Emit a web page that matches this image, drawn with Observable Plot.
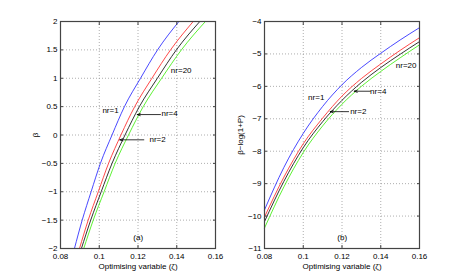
<!DOCTYPE html>
<html><head><meta charset="utf-8">
<script src="https://cdn.jsdelivr.net/npm/d3@7"></script>
<script src="https://cdn.jsdelivr.net/npm/@observablehq/plot@0.6"></script>
<style>
body{margin:0;background:#fff;width:463px;height:279px;position:relative;overflow:hidden}
#a,#b{position:absolute;top:0}
#a{left:0}
#b{left:230px}
</style>
</head><body><div id="a"></div><div id="b"></div>
<script>
// ---- shared ----
const seriesNames = ["nr=1", "nr=2", "nr=4", "nr=20"];
const seriesColors = ["#1a1aff", "#ff1a1a", "#000000", "#33ee00"];
const xTicks = [0.08, 0.1, 0.12, 0.14, 0.16];
const xLabel = "Optimising variable (ζ)";

// ---- panel (a): beta vs zeta ----
const betaLevels = [-2, -1.5, -1, -0.5, 0, 0.5, 1, 1.5, 2];
const zetaA_nr1  = [0.0872, 0.0912, 0.0958, 0.1006, 0.1066, 0.1130, 0.1213, 0.1301, 0.1411];
const zetaA_nr2  = [0.0898, 0.0943, 0.0995, 0.1048, 0.1112, 0.1183, 0.1272, 0.1368, 0.1485];
const zetaA_nr4  = [0.0908, 0.0956, 0.1010, 0.1066, 0.1133, 0.1207, 0.1300, 0.1398, 0.1519];
const zetaA_nr20 = [0.0920, 0.0969, 0.1025, 0.1082, 0.1151, 0.1227, 0.1322, 0.1424, 0.1548];
const yTicksA = [-2, -1.5, -1, -0.5, 0, 0.5, 1, 1.5, 2];
const yLabelA = "β";
const annTextA = ["nr=1", "nr=20", "nr=4", "nr=2", "(a)"];
const annXA = [0.1058, 0.1423, 0.1363, 0.1301, 0.1201];
const annYA = [0.432, 1.137, 0.374, -0.085, -1.81];
const arrX1A = [0.1316, 0.1230];
const arrX2A = [0.1196, 0.1106];
const arrYA = [0.36, -0.085];

// ---- panel (b): beta - log(1+P) vs zeta ----
const zetaGridB = [0.08, 0.09, 0.10, 0.11, 0.12, 0.13, 0.14, 0.15, 0.16];
const valB_nr1  = [-9.81, -8.50, -7.45, -6.62, -5.95, -5.42, -4.98, -4.57, -4.19];
const valB_nr2  = [-10.03, -8.80, -7.77, -6.98, -6.30, -5.76, -5.31, -4.89, -4.50];
const valB_nr4  = [-10.17, -8.93, -7.89, -7.09, -6.43, -5.88, -5.42, -5.01, -4.62];
const valB_nr20 = [-10.37, -9.10, -8.04, -7.22, -6.55, -6.00, -5.54, -5.12, -4.72];
const yTicksB = [-11, -10, -9, -8, -7, -6, -5, -4];
const yLabelB = "β−log(1+P)";
const annTextB = ["nr=1", "nr=20", "nr=4", "nr=2", "(b)"];
const annXB = [0.1067, 0.1531, 0.1387, 0.1284, 0.1201];
const annYB = [-6.34, -5.37, -6.15, -6.76, -10.66];
const arrX1B = [0.1346, 0.1234];
const arrX2B = [0.1263, 0.1139];
const arrYB = [-6.15, -6.78];

const fmt = d3.format("");
const blank = () => "";
const font = {fontFamily: "'Liberation Sans', Arial, Helvetica, sans-serif", fontSize: "8px", background: "white", color: "#000"};

function panel({width, marginLeft, marginRight, series, xsOf, ysOf, yTicks, yDomain, yLabel, labelOffsetY, annText, annX, annY, arrX1, arrX2, arrY}) {
  const lines = series.map((vals, i) => {
    const data = vals.map((v, j) => ({x: xsOf(i, j), y: ysOf(i, j)}));
    return Plot.line(data, {x: "x", y: "y", stroke: seriesColors[i], strokeWidth: 0.8, curve: "monotone-x"});
  });
  const ann = annText.map((t, i) => ({t, x: annX[i], y: annY[i]}));
  const arr = arrX1.map((x1, i) => ({x1, x2: arrX2[i], y: arrY[i]}));
  return Plot.plot({
    width, height: 279, marginLeft, marginRight, marginTop: 21, marginBottom: 31,
    style: font,
    x: {domain: [0.08, 0.16]},
    y: {domain: yDomain},
    marks: [
      Plot.gridX(xTicks.slice(1, -1), {stroke: "#999", strokeOpacity: 1, strokeWidth: 0.8, strokeDasharray: "1,2"}),
      Plot.gridY(yTicks.slice(1, -1), {stroke: "#999", strokeOpacity: 1, strokeWidth: 0.8, strokeDasharray: "1,2"}),
      ...lines,
      Plot.arrow(arr, {x1: "x1", y1: "y", x2: "x2", y2: "y", stroke: "#000", strokeWidth: 0.8, headLength: 6, headAngle: 40}),
      Plot.text(ann, {x: "x", y: "y", text: "t", fontSize: 8, fill: "#000"}),
      Plot.axisX(xTicks, {anchor: "bottom", tickSize: -3, tickFormat: blank, label: null, stroke: "#444"}),
      Plot.axisX(xTicks, {anchor: "top", tickSize: -3, tickFormat: blank, label: null, stroke: "#444"}),
      Plot.axisY(yTicks, {anchor: "left", tickSize: -3, tickFormat: blank, label: null, stroke: "#444"}),
      Plot.axisY(yTicks, {anchor: "right", tickSize: -3, tickFormat: blank, label: null, stroke: "#444"}),
      Plot.frame({stroke: "#444", strokeWidth: 1.2}),
      Plot.axisX(xTicks, {anchor: "bottom", tickSize: 0, tickPadding: 5, tickFormat: fmt, label: xLabel, labelAnchor: "center", labelOffset: 20, labelArrow: "none"}),
      Plot.axisY(yTicks, {anchor: "left", tickSize: 0, tickPadding: 3, tickFormat: fmt, label: yLabel, labelAnchor: "center", labelOffset: labelOffsetY, labelArrow: "none"})
    ]
  });
}

const seriesA = [zetaA_nr1, zetaA_nr2, zetaA_nr4, zetaA_nr20];
document.getElementById("a").append(panel({
  width: 230, marginLeft: 60, marginRight: 15, series: seriesA,
  xsOf: (i, j) => seriesA[i][j], ysOf: (i, j) => betaLevels[j],
  yTicks: yTicksA, yDomain: [-2, 2], yLabel: yLabelA, labelOffsetY: 28,
  annText: annTextA, annX: annXA, annY: annYA, arrX1: arrX1A, arrX2: arrX2A, arrY: arrYA
}));

const seriesB = [valB_nr1, valB_nr2, valB_nr4, valB_nr20];
document.getElementById("b").append(panel({
  width: 233, marginLeft: 34, marginRight: 44, series: seriesB,
  xsOf: (i, j) => zetaGridB[j], ysOf: (i, j) => seriesB[i][j],
  yTicks: yTicksB, yDomain: [-11, -4], yLabel: yLabelB, labelOffsetY: 27,
  annText: annTextB, annX: annXB, annY: annYB, arrX1: arrX1B, arrX2: arrX2B, arrY: arrYB
}));
</script></body></html>
